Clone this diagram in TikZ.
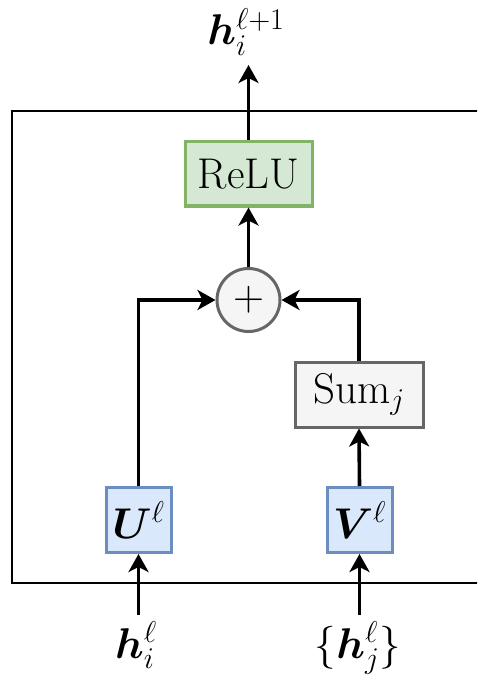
\RequirePackage{fix-cm}
\documentclass[tikz,border=0pt]{standalone}
\usepackage{bm}
\usetikzlibrary{arrows.meta}
\definecolor{gfill}{HTML}{D5E8D4}
\definecolor{gline}{HTML}{82B366}
\definecolor{bfill}{HTML}{DAE8FC}
\definecolor{bline}{HTML}{6C8EBF}
\definecolor{nfill}{HTML}{F5F5F5}
\definecolor{nline}{HTML}{666666}
\tikzset{
  bigfont/.style={font=\fontsize{43}{50}\selectfont},
  greenbox/.style={draw=gline, fill=gfill, line width=3pt, minimum width=127pt, minimum height=64pt, inner sep=0pt, bigfont},
  bluebox/.style={draw=bline, fill=bfill, line width=3pt, minimum width=65pt, minimum height=65pt, inner sep=0pt, bigfont},
  graybox/.style={draw=nline, fill=nfill, line width=3pt, minimum width=128pt, minimum height=65pt, inner sep=0pt, bigfont},
  plusnode/.style={circle, draw=nline, fill=nfill, line width=3pt, minimum size=63pt, inner sep=0pt, bigfont},
  lbl/.style={bigfont, inner sep=0pt, anchor=base},
  conn/.style={line width=3.6pt, -{Stealth[length=18pt, width=20pt, inset=5pt]}},
}
\begin{document}
\begin{tikzpicture}[x=1pt, y=-1pt]
\useasboundingbox (0,0) rectangle (477,676);
\begin{scope}
\clip (0,0) rectangle (477,676);
\draw[line width=1.7pt] (12,111) rectangle (500,583);
\end{scope}
\node[greenbox] (relu) at (248.5,174) {ReLU};
\node[plusnode] (plus) at (248.5,300) {$+$};
\node[graybox] (sum) at (359,394.5) {Sum$_j$};
\node[bluebox] (U) at (138.5,520) {$\bm{U}^{\ell}$};
\node[bluebox] (V) at (359.5,520) {$\bm{V}^{\ell}$};
\node[lbl] (out) at (246,45) {$\bm{h}_i^{\ell+1}$};
\node[lbl] (hi) at (136,658) {$\bm{h}_i^{\ell}$};
\node[lbl] (hj) at (358,658) {$\{\bm{h}_j^{\ell}\}$};
\coordinate (outtip) at (248.5,65);
\coordinate (hibase) at (138.5,615);
\coordinate (hjbase) at (359.5,615);
\draw[conn] (relu.north) -- (outtip);
\draw[conn] (plus.north) -- (relu.south);
\draw[conn] (U.north) |- (plus.west);
\draw[conn] (sum.north) |- (plus.east);
\draw[conn] (V.north) -- (sum.south);
\draw[conn] (hibase) -- (U.south);
\draw[conn] (hjbase) -- (V.south);
\end{tikzpicture}
\end{document}
